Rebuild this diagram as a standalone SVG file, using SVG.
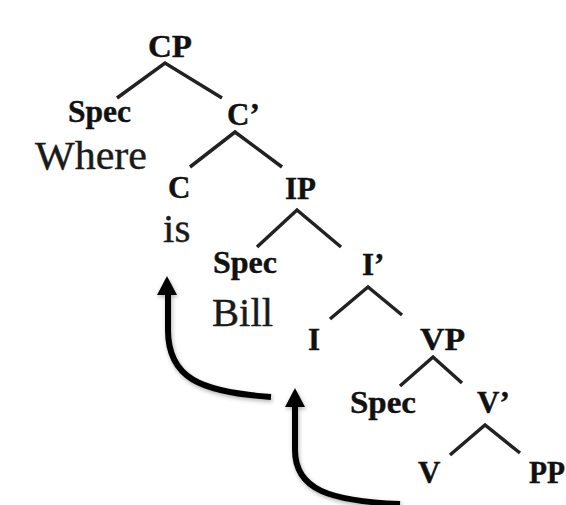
<svg xmlns="http://www.w3.org/2000/svg" width="566" height="505" viewBox="0 0 566 505">
<defs>
<style>
.lab{font-family:"Liberation Serif","Times New Roman",serif;font-weight:bold;font-size:31px;fill:#111;stroke:#111;stroke-width:0.4}
.word{font-family:"Liberation Serif","Times New Roman",serif;font-weight:normal;font-size:41px;fill:#1a1a1a;stroke:#1a1a1a;stroke-width:0.4}
.br{stroke:#222;stroke-width:3.5;fill:none;stroke-linecap:butt}
.arr{stroke:#000;stroke-width:6;fill:none}
</style>
<filter id="sh" x="-20%" y="-20%" width="140%" height="140%">
<feDropShadow dx="1" dy="2" stdDeviation="2" flood-color="#000" flood-opacity="0.3"/>
</filter>
</defs>
<rect width="566" height="505" fill="#fff"/>
<g id="connectors">
<path class="br" d="M117,98 L165,63 L222,98"/>
<path class="br" d="M190,167 L235,132 L282,167"/>
<path class="br" d="M257,247 L297,210 L341,247"/>
<path class="br" d="M330,319 L368,287 L402,315"/>
<path class="br" d="M400,386 L433,357 L462,383"/>
<path class="br" d="M450,455 L485,425 L520,453"/>
<g filter="url(#sh)">
<path class="arr" d="M271,397 C200,392 168,378 168,330 L168,292"/>
<polygon points="167,276 177,295 157,295" fill="#000"/>
<path class="arr" d="M400,504 C330,501 295,490 295,450 L295,404"/>
<polygon points="295,388 305,407 285,407" fill="#000"/>
</g>
</g>
<g id="CP"><text class="lab" x="148" y="57" textLength="44" lengthAdjust="spacingAndGlyphs">CP</text></g>
<g id="Spec1"><text class="lab" x="68" y="122" textLength="63" lengthAdjust="spacingAndGlyphs">Spec</text><text class="word" x="35" y="169" textLength="112" lengthAdjust="spacingAndGlyphs">Where</text></g>
<g id="Cbar"><text class="lab" x="227" y="125">C’</text></g>
<g id="C"><text class="lab" x="168" y="198">C</text><text class="word" x="163" y="242">is</text></g>
<g id="IP"><text class="lab" x="285" y="199">IP</text></g>
<g id="Spec2"><text class="lab" x="213" y="273" textLength="64" lengthAdjust="spacingAndGlyphs">Spec</text><text class="word" x="212" y="326" textLength="61" lengthAdjust="spacingAndGlyphs">Bill</text></g>
<g id="Ibar"><text class="lab" x="362" y="275">I’</text></g>
<g id="I"><text class="lab" x="308" y="350">I</text></g>
<g id="VP"><text class="lab" x="420" y="350" textLength="45" lengthAdjust="spacingAndGlyphs">VP</text></g>
<g id="Spec3"><text class="lab" x="350" y="413" textLength="66" lengthAdjust="spacingAndGlyphs">Spec</text></g>
<g id="Vbar"><text class="lab" x="477" y="413">V’</text></g>
<g id="V"><text class="lab" x="418" y="483">V</text></g>
<g id="PP"><text class="lab" x="529" y="483" textLength="36" lengthAdjust="spacingAndGlyphs">PP</text></g>
</svg>
